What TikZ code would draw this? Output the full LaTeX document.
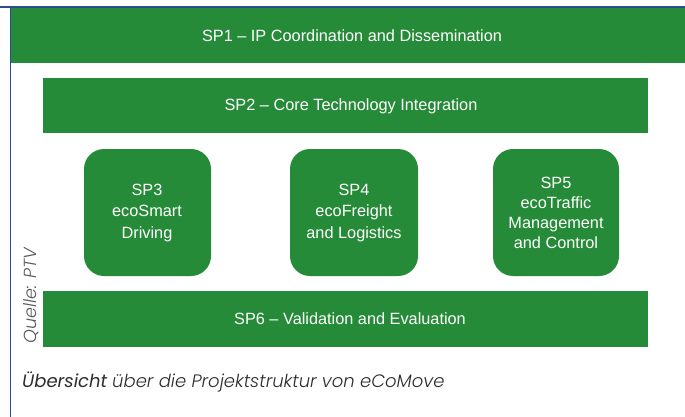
\documentclass[tikz,border=0pt]{standalone}
\usepackage{fontspec}
\setmainfont{Liberation Sans}
\IfFontExistsTF{Poppins Light}{\newfontfamily\capl{Poppins Light}}{\newfontfamily\capl{Poppins}}
\newfontfamily\capr{Poppins}
\definecolor{sgreen}{RGB}{38,139,56}
\definecolor{frameblue}{RGB}{45,75,140}
\definecolor{captxt}{RGB}{45,45,45}
\definecolor{srctxt}{RGB}{90,90,90}
\tikzset{
  bar/.style={fill=sgreen, draw=none},
  spbox/.style={fill=sgreen, draw=none, rounded corners=20pt},
  bartext/.style={text=white, font=\fontsize{16.3}{19}\selectfont, inner sep=0pt},
  boxtext/.style={text=white, font=\fontsize{16.3}{21.5}\selectfont, align=center, inner sep=0pt},
}
\begin{document}
\begin{tikzpicture}[x=1pt,y=-1pt]
\useasboundingbox (0,0) rectangle (685,417);
\fill[white] (0,0) rectangle (685,417);
% frame lines
\draw[frameblue, line width=1.2pt] (0,7) -- (685,7);
\draw[frameblue, line width=1.2pt] (10.5,7) -- (10.5,417);
% bars
\path[bar] (11,8) rectangle (685,63);
\node[bartext] (sp1) at (352,35.5) {SP1 – IP Coordination and Dissemination};
\path[bar] (43,78) rectangle (648,133);
\node[bartext] (sp2) at (351,106) {SP2 – Core Technology Integration};
% boxes
\path[spbox] (84,149) rectangle (211,276);
\node[boxtext] (sp3) at (147,213) {SP3\\ecoSmart\\Driving};
\path[spbox] (290,149) rectangle (418,276);
\node[boxtext] (sp4) at (354,213) {SP4\\ecoFreight\\and Logistics};
\path[spbox] (493,149) rectangle (619,276);
\node[boxtext, font=\fontsize{16.3}{20}\selectfont] (sp5) at (556,213) {SP5\\ecoTraffic\\Management\\and Control};
\path[bar] (43,291) rectangle (648,347);
\node[bartext] (sp6) at (350,319) {SP6 – Validation and Evaluation};
% source
\node[rotate=90, text=srctxt, font=\capl\itshape\fontsize{17.5}{19}\selectfont, inner sep=0pt] (src) at (31,296) {Quelle: PTV};
% caption
\node[anchor=base west, text=captxt, inner sep=0pt, font=\fontsize{18}{20}\selectfont] (cap) at (22,387) {{\capr\itshape Übersicht} {\capl\itshape über die Projektstruktur von eCoMove}};
\end{tikzpicture}
\end{document}
